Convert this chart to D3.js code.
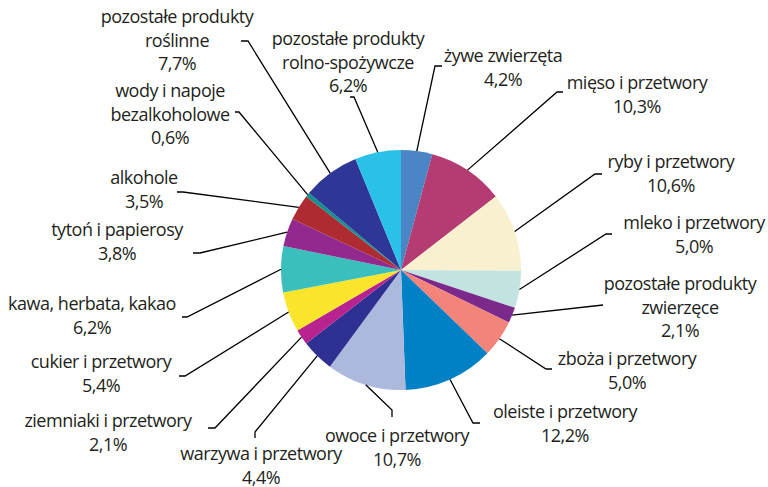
<!DOCTYPE html>
<html><head><meta charset="utf-8">
<script src="https://cdn.jsdelivr.net/npm/d3@7"></script>
<style>body{margin:0;background:#fff}svg{display:block}text{font-family:"Open Sans",sans-serif;font-size:18px;letter-spacing:-0.5px;fill:#231f20}</style>
</head><body>
<script>
const categories = ["żywe zwierzęta","mięso i przetwory","ryby i przetwory","mleko i przetwory","pozostałe produkty zwierzęce","zboża i przetwory","oleiste i przetwory","owoce i przetwory","warzywa i przetwory","ziemniaki i przetwory","cukier i przetwory","kawa, herbata, kakao","tytoń i papierosy","alkohole","wody i napoje bezalkoholowe","pozostałe produkty roślinne","pozostałe produkty rolno-spożywcze"];
const values = [4.2,10.3,10.6,5.0,2.1,5.0,12.2,10.7,4.4,2.1,5.4,6.2,3.8,3.5,0.6,7.7,6.2];
const labelLines = [["żywe zwierzęta"],["mięso i przetwory"],["ryby i przetwory"],["mleko i przetwory"],["pozostałe produkty","zwierzęce"],["zboża i przetwory"],["oleiste i przetwory"],["owoce i przetwory"],["warzywa i przetwory"],["ziemniaki i przetwory"],["cukier i przetwory"],["kawa, herbata, kakao"],["tytoń i papierosy"],["alkohole"],["wody i napoje","bezalkoholowe"],["pozostałe produkty","roślinne"],["pozostałe produkty","rolno-spożywcze"]];
const colors = ["#4a86c5","#b53c73","#f9f0d0","#c2e3e0","#7b2a8b","#f4837a","#0081c6","#acb9dc","#2e3192","#b8238f","#fae52c","#3bbfbc","#93288e","#ae2b31","#14908f","#2e3795","#29c1e8"];

// label layout (text centre x, first baseline y, leader start, elbow)
const layout = [
  {x:503,y:62,p0:[442,66],p1:[435,66]},
  {x:637,y:89,p0:[563,92],p1:[557,92]},
  {x:671,y:168,p0:[602,174],p1:[595,174]},
  {x:694,y:229,p0:[612,234],p1:[606,234]},
  {x:680,y:290,p0:[603,305],p1:[603,305]},
  {x:627,y:365,p0:[552,369],p1:[546,369]},
  {x:565,y:418,p0:[480,423],p1:[473,423]},
  {x:397,y:442,p0:[392,417],p1:[392,410]},
  {x:261,y:460,p0:[255,438],p1:[255,432]},
  {x:108,y:427,p0:[208,428],p1:[215,428]},
  {x:101,y:368,p0:[179,376],p1:[185,376]},
  {x:92,y:310,p0:[182,317],p1:[187,317]},
  {x:117,y:236,p0:[193,253],p1:[200,253]},
  {x:144,y:184,p0:[177,192],p1:[183,192]},
  {x:170,y:97,p0:[235,112],p1:[239,112]},
  {x:177,y:23,p0:[241,41],p1:[248,41]},
  {x:348,y:45,p0:[350,97],p1:[354,97]}
];
const W=768,H=487,cx=401,cy=270,R=120,LH=23.5;
const fmt = v => v.toFixed(1).replace(".",",")+"%";

const svg = d3.select("body").append("svg").attr("width",W).attr("height",H);
const pie = d3.pie().sort(null).value(d=>d)(values);
const arc = d3.arc().innerRadius(0).outerRadius(R);
const g = svg.append("g").attr("transform",`translate(${cx},${cy})`);
g.selectAll("path").data(pie).join("path").attr("d",arc).attr("fill",(d,i)=>colors[i]);

pie.forEach((d,i)=>{
  const a=(d.startAngle+d.endAngle)/2;
  const px=cx+R*Math.sin(a), py=cy-R*Math.cos(a);
  const L=layout[i];
  svg.append("polyline").attr("points",[L.p0,L.p1,[px,py]].map(p=>p.join(",")).join(" "))
    .attr("fill","none").attr("stroke","#000").attr("stroke-width",1.3);
  const t=svg.append("text").attr("text-anchor","middle");
  const lines=labelLines[i].concat([fmt(values[i])]);
  lines.forEach((s,k)=>t.append("tspan").attr("x",L.x).attr("y",L.y+k*LH).text(s));
});
</script>
</body></html>
